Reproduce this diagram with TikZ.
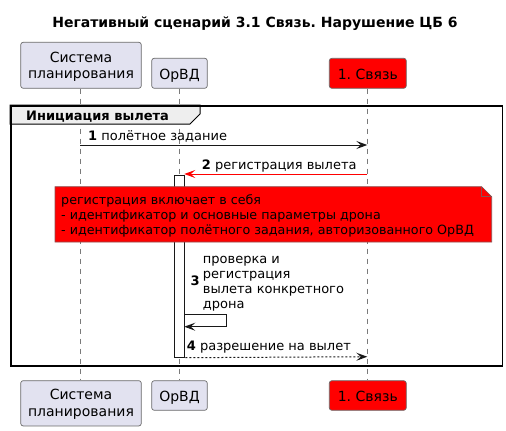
\documentclass[tikz,border=0pt]{standalone}
\usepackage{fontspec}
\setmainfont{DejaVu Sans}
\usetikzlibrary{arrows.meta}
\frenchspacing
\definecolor{partfill}{HTML}{E2E2F0}
\definecolor{partdraw}{HTML}{6A6A6A}
\definecolor{tabfill}{HTML}{EEEEEE}
\definecolor{ink}{HTML}{181818}
\definecolor{lifegray}{HTML}{7A7A7A}
\definecolor{notered}{HTML}{FF0000}
\definecolor{notedraw}{HTML}{8A5050}
\begin{document}
\frenchspacing
\begin{tikzpicture}[x=1pt,y=-1pt,
  part/.style={draw=partdraw, line width=0.7pt, fill=partfill, rounded corners=2.5pt, inner sep=0pt},
  redpart/.style={part, fill=notered},
  ptext/.style={font=\fontsize{14}{16}\selectfont, anchor=base, inner sep=0pt},
  mtext/.style={font=\fontsize{13}{15}\selectfont, anchor=base west, inner sep=0pt},
  ntext/.style={font=\fontsize{12.7}{15}\selectfont, anchor=base west, inner sep=0pt},
  lifeline/.style={draw=lifegray, line width=0.6pt, dash pattern=on 5pt off 5pt},
  msgtip/.tip={Stealth[length=11pt,width=8pt,inset=4.5pt]},
  msg/.style={draw=ink, line width=1pt, -msgtip},
  redmsg/.style={draw=notered, line width=1pt, -{Stealth[length=11pt,width=8pt,inset=4.5pt,color=notered]}},
  retmsg/.style={msg, dash pattern=on 2pt off 2pt},
  actbox/.style={draw=ink, line width=1pt, fill=white, inner sep=0pt},
  notebox/.style={draw=notedraw, line width=0.6pt, fill=notered},
  grpframe/.style={draw=black, line width=1.5pt, inner sep=0pt},
  grptab/.style={draw=black, line width=1pt, fill=tabfill}
]
\useasboundingbox (0,0) rectangle (506,431);

% title
\node[font=\fontsize{14}{16}\selectfont\bfseries, anchor=base, inner sep=0pt] (title) at (255,27.7) {Негативный сценарий 3.1 Связь. Нарушение ЦБ 6};

% participants top
\node[part, minimum width=120.6pt, minimum height=46pt] (sp) at (81,65.3) {};
\node[ptext] (sptA) at (81,62.3) {Система};
\node[ptext] (sptB) at (81,78.6) {планирования};
\node[part, minimum width=55.6pt, minimum height=30pt] (ov) at (179.5,73.3) {};
\node[ptext] (ovt) at (179.5,79) {ОрВД};
\node[redpart, minimum width=77pt, minimum height=30pt] (sv) at (367.8,73.3) {};
\node[ptext] (svt) at (367.8,79) {1. Связь};

% participants bottom
\node[part, minimum width=120.6pt, minimum height=45.3pt] (spb) at (81,403.3) {};
\node[ptext] (spbtA) at (81,399.6) {Система};
\node[ptext] (spbtB) at (81,416) {планирования};
\node[part, minimum width=55.6pt, minimum height=29.6pt] (ovb) at (179.5,395.5) {};
\node[ptext] (ovbt) at (179.5,401) {ОрВД};
\node[redpart, minimum width=77pt, minimum height=29.6pt] (svb) at (367.8,395.5) {};
\node[ptext] (svbt) at (367.8,401) {1. Связь};

% lifelines
\draw[lifeline] (sp.south -| 80.3,0) -- (spb.north -| 80.3,0);
\draw[lifeline] (ov.south -| 179.3,0) -- (ovb.north -| 179.3,0);
\draw[lifeline] (sv.south -| 367.3,0) -- (svb.north -| 367.3,0);

% group
\draw[grptab] (10,105) -- (200,105) -- (200,114) -- (190,124) -- (10,124) -- cycle;
\node[grpframe, minimum width=491.7pt, minimum height=260pt, anchor=north west] (grp) at (10,105) {};
\node[font=\fontsize{13}{15}\selectfont\bfseries, anchor=base west, inner sep=0pt] (grpt) at (26,120) {Инициация вылета};

% activation
\node[actbox, minimum width=10pt, minimum height=182pt, anchor=north west] (actv) at (174.3,174.7) {};

% note
\draw[notebox] (55,186.7) -- (481.7,186.7) -- (491.7,196.7) -- (491.7,242) -- (55,242) -- cycle;
\draw[draw=notedraw, line width=0.6pt] (481.7,186.7) -- (481.7,196.7) -- (491.7,196.7);
\node[ntext] (n1) at (61,204) {регистрация включает в себя};
\node[ntext] (n2) at (61,219) {- идентификатор и основные параметры дрона};
\node[ntext] (n3) at (61,234.3) {- идентификатор полётного задания, авторизованного ОрВД};

% message 1
\coordinate (m1a) at (80.3,145);
\coordinate (m1b) at (367.3,145);
\draw[msg] (m1a) -- (m1b);
\node[mtext] (l1) at (88,140) {\textbf{1} полётное задание};

% message 2
\coordinate (m2a) at (367.3,174);
\coordinate (m2b) at (184.3,174);
\draw[redmsg] (m2a) -- (m2b);
\node[mtext] (l2) at (201.7,169.3) {\textbf{2} регистрация вылета};

% message 3 (self)
\coordinate (m3a) at (184.3,314.3);
\coordinate (m3b) at (184.3,326.7);
\draw[msg] (m3a) -- (226.7,314.3) -- (226.7,326.7) -- (m3b);
\node[mtext, font=\fontsize{13}{15}\selectfont\bfseries] (l3n) at (190.5,285.7) {3};
\node[mtext] (l3a) at (202.7,263.3) {проверка и};
\node[mtext] (l3b) at (202.7,278.3) {регистрация};
\node[mtext] (l3c) at (202.7,293.3) {вылета конкретного};
\node[mtext] (l3d) at (202.7,308.3) {дрона};

% message 4
\coordinate (m4b) at (367.3,356.7);
\draw[retmsg] (actv.south east) -- (m4b);
\node[mtext] (l4) at (186.7,350.7) {\textbf{4} разрешение на вылет};

\end{tikzpicture}
\end{document}
